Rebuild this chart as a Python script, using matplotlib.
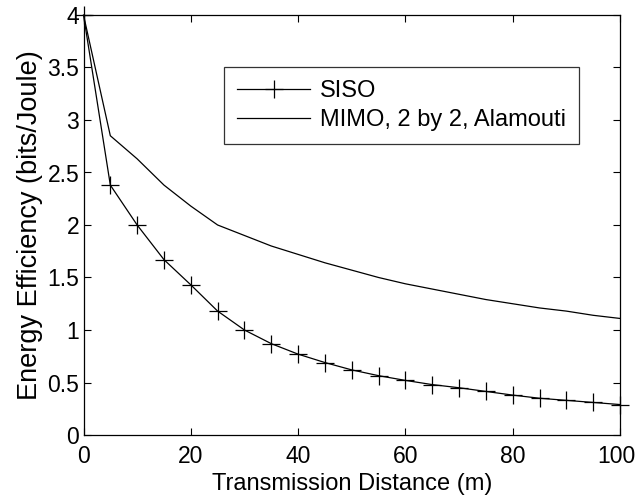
"""Energy efficiency vs transmission distance, SISO vs 2x2 Alamouti MIMO."""

import matplotlib
matplotlib.use("Agg")
import matplotlib.pyplot as plt
import matplotlib.transforms as mtransforms

# SISO curve (markers every 5 m)
siso_dist = [0, 5, 10, 15, 20, 25, 30, 35, 40, 45, 50,
             55, 60, 65, 70, 75, 80, 85, 90, 95, 100]
siso_eff = [4.0, 2.38, 2.0, 1.67, 1.43, 1.18, 1.0, 0.87, 0.77, 0.69, 0.62,
            0.565, 0.52, 0.48, 0.45, 0.415, 0.38, 0.35, 0.33, 0.31, 0.29]

# MIMO 2x2 Alamouti curve
mimo_dist = [0, 5, 10, 15, 20, 25, 30, 35, 40, 45, 50,
             55, 60, 65, 70, 75, 80, 85, 90, 95, 100]
mimo_eff = [4.0, 2.85, 2.63, 2.38, 2.18, 2.0, 1.90, 1.80, 1.72, 1.64, 1.57,
            1.50, 1.44, 1.39, 1.34, 1.29, 1.25, 1.21, 1.18, 1.14, 1.11]

plt.rcParams["font.family"] = ["Liberation Sans", "DejaVu Sans"]

fig = plt.figure(figsize=(6.37, 4.98), dpi=100)
ax = fig.add_axes([83.5 / 637, 1 - 435 / 498, (620 - 83.5) / 637, (435 - 15) / 498])

ax.plot(siso_dist, siso_eff, color="black", lw=0.9, marker="+", ms=13,
        mew=0.9, label="SISO", clip_on=False)
ax.plot(mimo_dist, mimo_eff, color="black", lw=0.9, label="MIMO, 2 by 2, Alamouti")

ax.set_xlim(0, 100)
ax.set_ylim(0, 4)
ax.set_xticks([0, 20, 40, 60, 80, 100])
ax.set_yticks([0, 0.5, 1, 1.5, 2, 2.5, 3, 3.5, 4])
ax.set_yticklabels(["0", "0.5", "1", "1.5", "2", "2.5", "3", "3.5", "4"])
ax.tick_params(direction="in", length=5, width=0.8, labelsize=16.5,
               top=True, right=True, pad=3)
ax.tick_params(axis="x", pad=7)
for sp in ax.spines.values():
    sp.set_linewidth(0.9)

# nudge "100" left so it stays inside the figure
last = ax.get_xticklabels()[-1]
last.set_transform(last.get_transform()
                   + mtransforms.ScaledTranslation(-3.5 / 100, 0, fig.dpi_scale_trans))

ax.set_xlabel("Transmission Distance (m)", fontsize=17, labelpad=4)
ax.set_ylabel("Energy Efficiency (bits/Joule)", fontsize=19.5, labelpad=3)

leg = ax.legend(loc="upper left", bbox_to_anchor=((224 - 83.5) / 536.5, (435 - 67) / 420),
                fontsize=17, frameon=True, fancybox=False, edgecolor="black",
                handlelength=3.1, borderpad=0.55, labelspacing=0.3, handletextpad=0.4,
                borderaxespad=0)
leg.get_frame().set_linewidth(0.9)

fig.savefig("out.png", dpi=100)
